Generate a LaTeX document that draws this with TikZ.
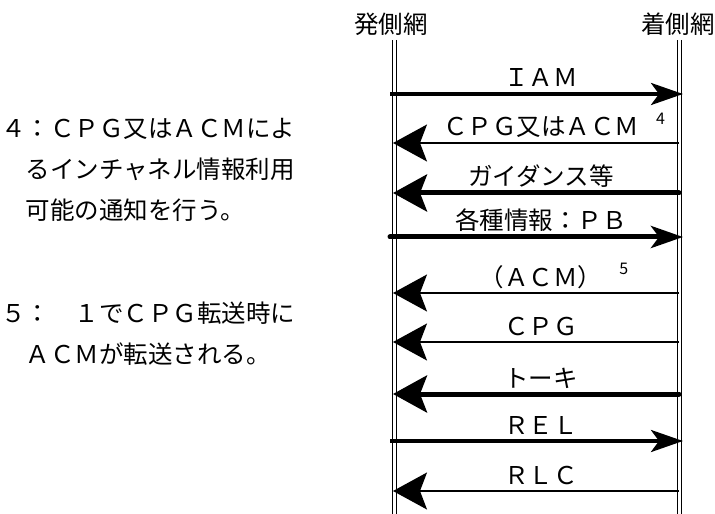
\documentclass[tikz,border=0pt]{standalone}
\usepackage{fontspec}
\setmainfont{Noto Sans CJK JP}
\usetikzlibrary{arrows.meta, positioning}
\newcommand{\msgnote}[1]{\rlap{\hspace{17bp}\raisebox{11bp}{\fontsize{16bp}{16bp}\selectfont #1}}}

\tikzset{
  net/.style={font=\fontsize{24.5bp}{29bp}\selectfont, inner sep=0pt, anchor=base},
  note/.style={net, anchor=base west},
  lbl/.style={net, midway, yshift=7bp, xshift=5bp},
  lifeline/.style={double, double distance=3bp, line width=1.1bp},
  toR/.style={-{Stealth[length=32bp, width=22bp, inset=8bp]}, shorten <=-3bp, shorten >=-4bp},
  toL/.style={-{Stealth[length=34bp, width=37bp, inset=7bp]}},
  msgthin/.style={line width=1.5bp},
  msgmid/.style={line width=3.8bp},
  msgbold/.style={line width=5bp, line cap=round}
}

\begin{document}
\begin{tikzpicture}[x=1bp, y=-1bp]
    \useasboundingbox (0,0) rectangle (715,514);

    % Networks and their lifelines
    \node[net] (src) at (391,34) {発側網};
    \node[net] (dst) at (678,34) {着側網};
    \coordinate (src-top) at (394.5,40);
    \coordinate (src-bot) at (394.5,514);
    \coordinate (dst-top) at (679.5,40);
    \coordinate (dst-bot) at (679.5,514);
    \draw[lifeline] (src-top) -- (src-bot);
    \draw[lifeline] (dst-top) -- (dst-bot);

    % Message rows
    \foreach \n/\y in {iam/94, cpgacm/143, guide/193, info/237, acm/293, cpg/342, talkie/394, rel/441, rlc/491} {
        \coordinate (\n-L) at (393,\y);
        \coordinate (\n-R) at (679,\y);
    }
    \draw[toR, msgmid] (iam-L) -- node[lbl] {ＩＡＭ} (iam-R);
    \draw[toL, msgthin] (cpgacm-R) -- node[lbl] {ＣＰＧ又はＡＣＭ\msgnote{4}} (cpgacm-L);
    \draw[toL, msgbold] (guide-R) -- node[lbl] {ガイダンス等} (guide-L);
    \draw[toR, msgbold] (info-L) -- node[lbl] {各種情報：ＰＢ} (info-R);
    \draw[toL, msgthin] (acm-R) -- node[lbl] {（ＡＣＭ）\msgnote{5}} (acm-L);
    \draw[toL, msgthin] (cpg-R) -- node[lbl] {ＣＰＧ} (cpg-L);
    \draw[toL, msgbold] (talkie-R) -- node[lbl] {トーキ} (talkie-L);
    \draw[toR, msgmid] (rel-L) -- node[lbl] {ＲＥＬ} (rel-R);
    \draw[toL, msgthin] (rlc-R) -- node[lbl] {ＲＬＣ} (rlc-L);

    % Notes
    \foreach \t [count=\k] in {４：ＣＰＧ又はＡＣＭによ, 　るインチャネル情報利用, 　可能の通知を行う。}
        \node[note] (note4-\k) at (1,{138+41*(\k-1)}) {\t};
    \foreach \t [count=\k] in {５：　１でＣＰＧ転送時に, 　ＡＣＭが転送される。}
        \node[note] (note5-\k) at (1,{322+41*(\k-1)}) {\t};
\end{tikzpicture}
\end{document}
